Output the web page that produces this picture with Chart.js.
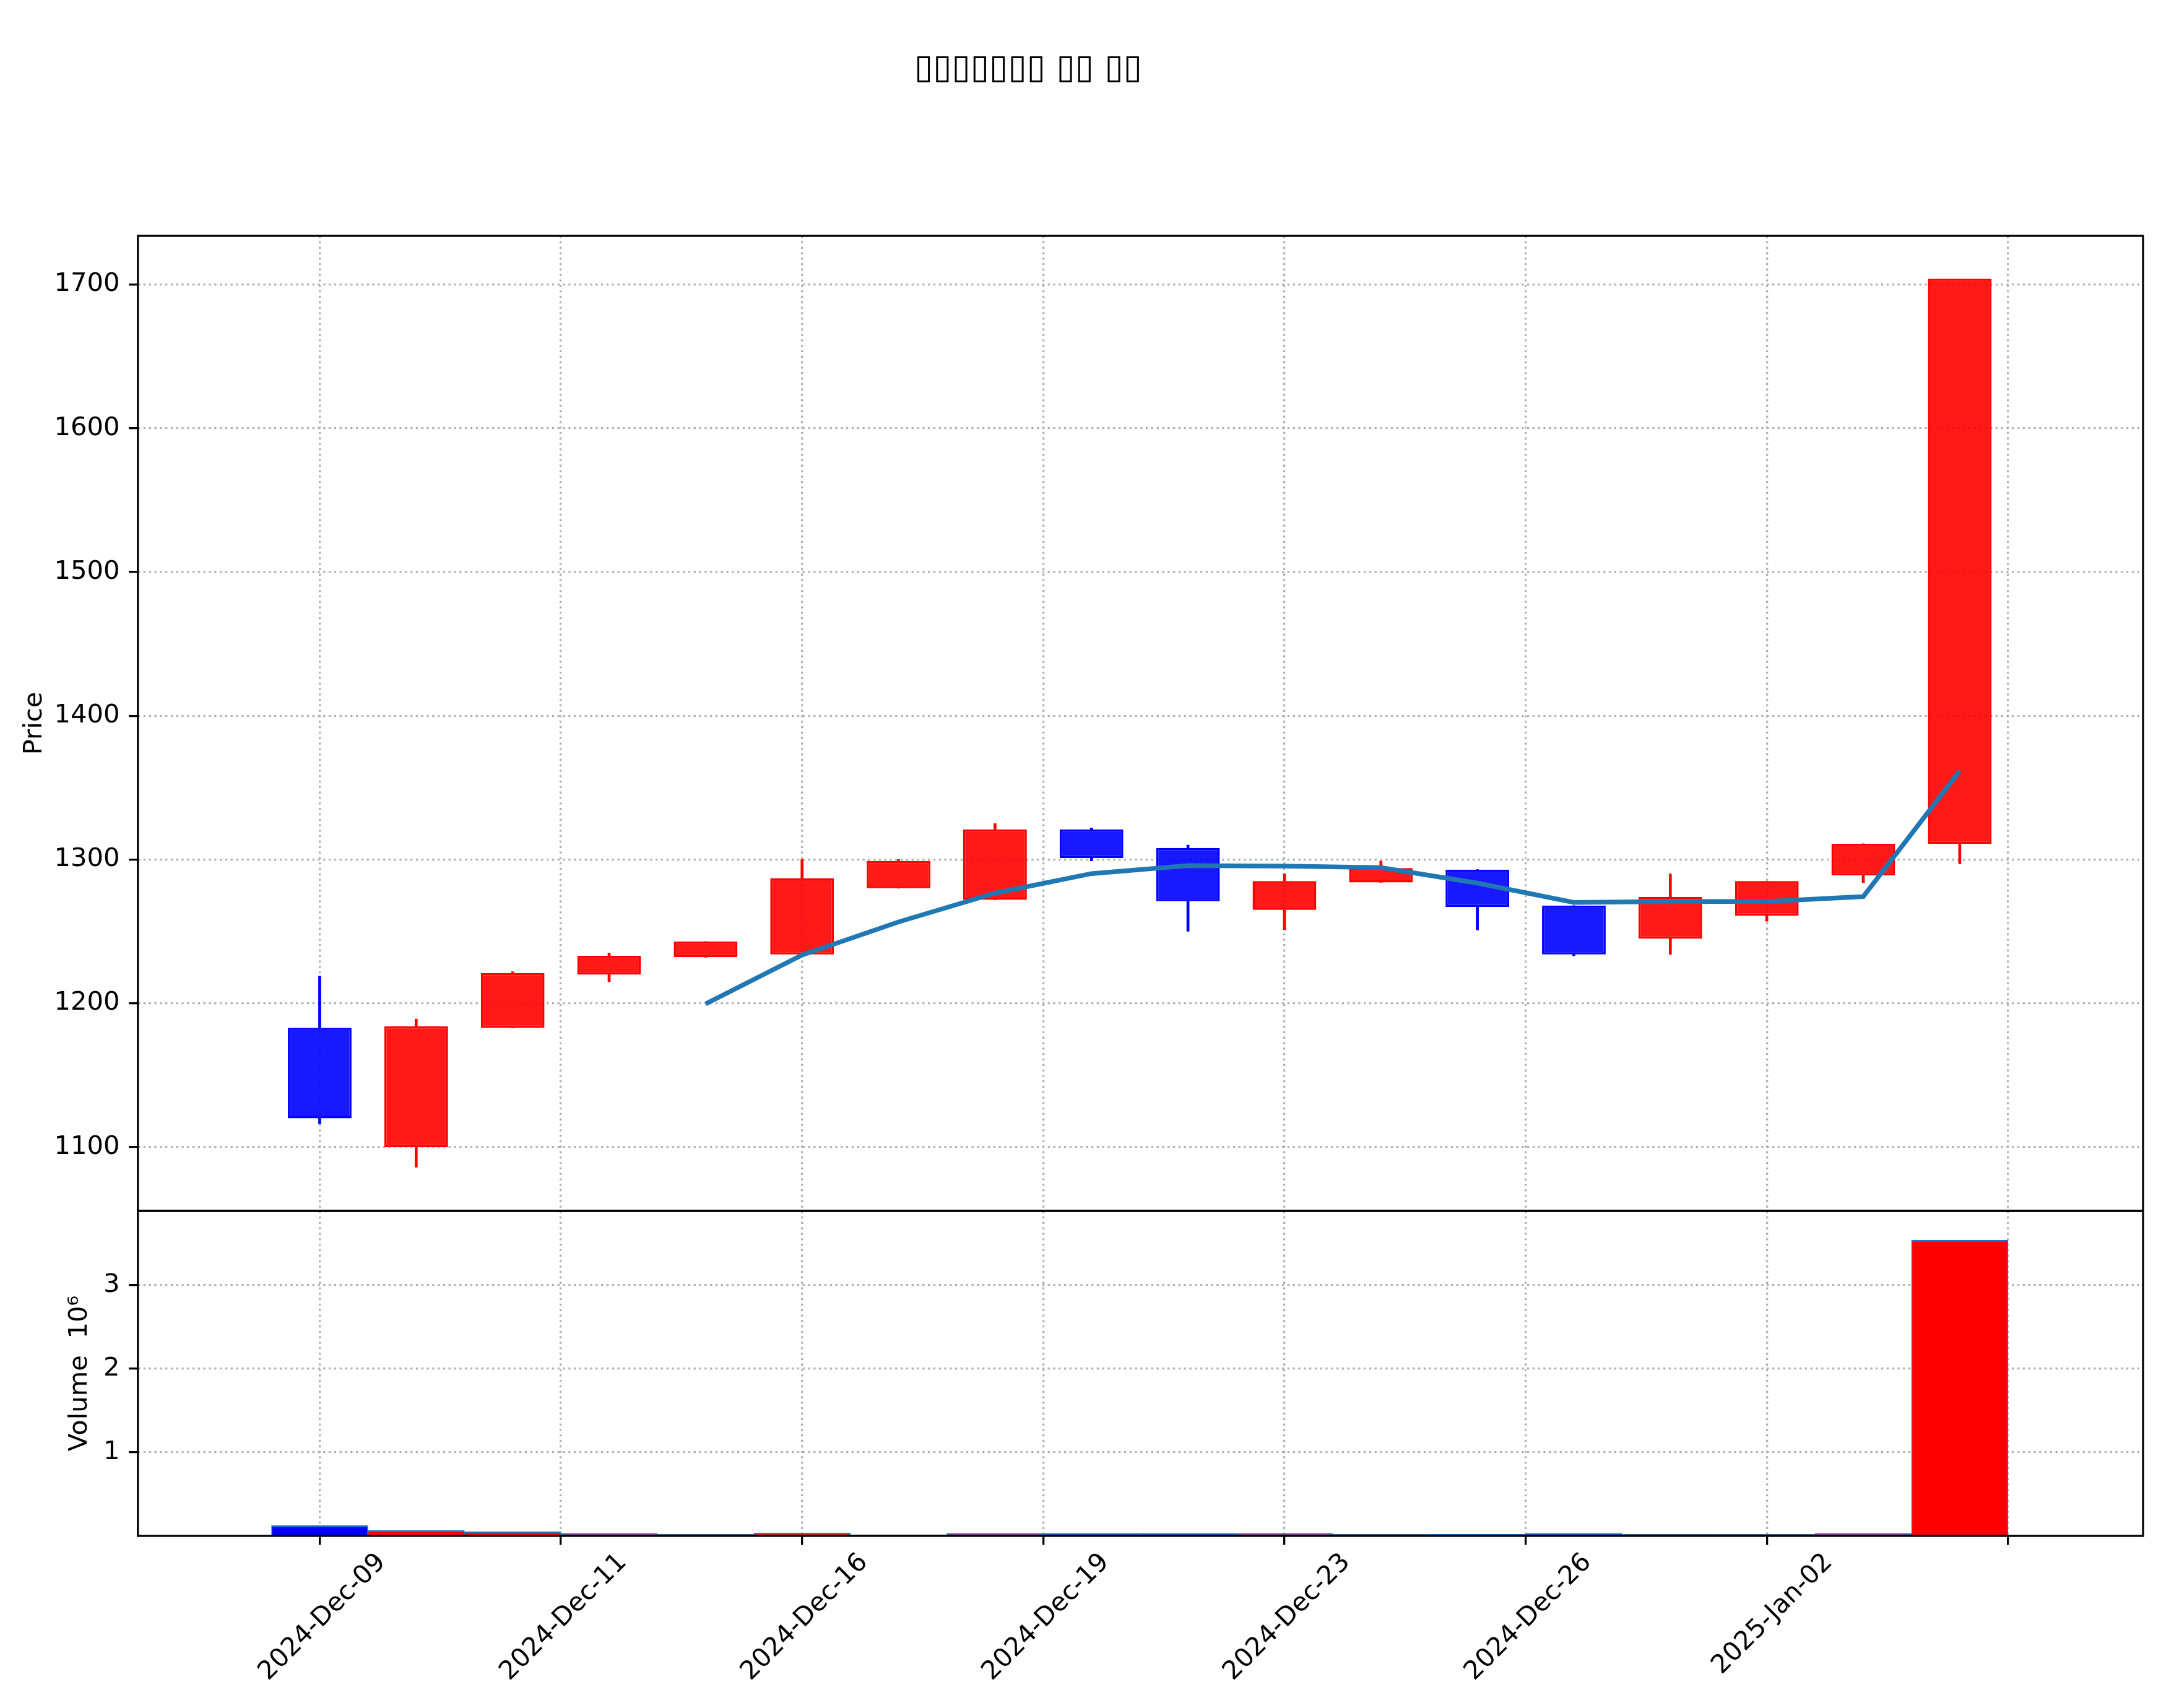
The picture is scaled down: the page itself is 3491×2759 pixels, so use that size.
<!DOCTYPE html>
<html lang="ko">
<head>
    <meta charset="UTF-8">
    <title>Candlestick chart</title>
    <script src="https://cdn.jsdelivr.net/npm/chart.js"></script>
    <style>
        html, body { margin: 0; padding: 0; background: #fff; }
        #chart { display: block; }
    </style>
</head>
<body>
    <canvas id="chart" width="3491" height="2759"></canvas>

    <script>
        // Values
        const chartTitle = '▯▯▯▯▯▯▯ ▯▯ ▯▯';
        const dates = ['2024-Dec-09', '2024-Dec-10', '2024-Dec-11', '2024-Dec-12', '2024-Dec-13', '2024-Dec-16',
                       '2024-Dec-17', '2024-Dec-18', '2024-Dec-19', '2024-Dec-20', '2024-Dec-23', '2024-Dec-24',
                       '2024-Dec-26', '2024-Dec-27', '2024-Dec-30', '2025-Jan-02', '2025-Jan-03', '2025-Jan-06'];
        const opens  = [1183, 1100, 1183, 1220, 1232, 1234, 1280, 1272, 1321, 1308, 1265, 1284, 1293, 1268, 1245, 1261, 1289, 1311];
        const highs  = [1219, 1189, 1222, 1235, 1243, 1300, 1300, 1325, 1322, 1310, 1290, 1299, 1293, 1268, 1290, 1285, 1311, 1704];
        const lows   = [1116, 1086, 1183, 1215, 1232, 1233, 1280, 1272, 1299, 1250, 1251, 1284, 1251, 1233, 1234, 1257, 1284, 1297];
        const closes = [1120, 1184, 1221, 1233, 1243, 1287, 1299, 1321, 1301, 1271, 1285, 1294, 1267, 1234, 1274, 1285, 1311, 1704];
        const ma5    = [null, null, null, null, 1199.6, 1233.6, 1256.6, 1276.6, 1290.2, 1295.8, 1295.4, 1294.4,
                        1283.6, 1270.2, 1270.8, 1270.8, 1274.2, 1361.6];
        const volumes = [126000, 67000, 52000, 30000, 22000, 37000, 15000, 30000, 30000, 30000, 30000, 22000,
                         22000, 30000, 22000, 22000, 30000, 3540000];

        const priceTicks = [1100, 1200, 1300, 1400, 1500, 1600, 1700];
        const volumeTicks = [1000000, 2000000, 3000000];
        const xTickPos = [0, 2.5, 5, 7.5, 10, 12.5, 15, 17.5];
        const xTickLabels = ['2024-Dec-09', '2024-Dec-11', '2024-Dec-16', '2024-Dec-19', '2024-Dec-23',
                             '2024-Dec-26', '2025-Jan-02', ''];

        // colours: red = up, blue = down
        const isUp = closes.map((c, i) => c >= opens[i]);
        const bodyFill = isUp.map(u => u ? 'rgba(255,0,0,0.9)' : 'rgba(0,0,255,0.9)');
        const edgeColor = isUp.map(u => u ? '#ff0000' : '#0000ff');
        const volFill = isUp.map(u => u ? '#ff0000' : '#0000ff');

        // wicks are split at the body so they don't show through it
        const bodyTop = opens.map((o, i) => Math.max(o, closes[i]));
        const bodyBottom = opens.map((o, i) => Math.min(o, closes[i]));

        const FONT = 'DejaVu Sans';
        const gridColor = '#b0b0b0';

        // Title, axis labels and panel frames
        const decorPlugin = {
            id: 'decor',
            afterDatasetsDraw(chart) {
                const ctx = chart.ctx;
                const a = chart.chartArea;
                const yv = chart.scales.yv;
                ctx.save();
                ctx.strokeStyle = '#000';
                ctx.lineWidth = 3.3;
                ctx.strokeRect(a.left, a.top, a.right - a.left, yv.top - a.top);
                ctx.strokeRect(a.left, yv.top, a.right - a.left, a.bottom - yv.top);
                ctx.restore();
            },
            afterDraw(chart) {
                const ctx = chart.ctx;
                const yp = chart.scales.y;
                const yv = chart.scales.yv;
                ctx.save();
                ctx.fillStyle = '#000';
                ctx.textAlign = 'center';
                ctx.textBaseline = 'middle';
                ctx.font = '55px "' + FONT + '"';
                ctx.fillText(chartTitle, 1661, 112);

                ctx.font = '41.7px "' + FONT + '"';
                ctx.textBaseline = 'alphabetic';
                const vText = (t, x, y) => {
                    ctx.save();
                    ctx.translate(x, y);
                    ctx.rotate(-Math.PI / 2);
                    ctx.fillText(t, 0, 0);
                    ctx.restore();
                };
                vText('Price', 67, (yp.top + yp.bottom) / 2);
                vText('Volume  10⁶', 140, (yv.top + yv.bottom) / 2);
                ctx.restore();
            }
        };

        const tickFont = { family: FONT, size: 41.7 };
        const gridOpts = {
            color: gridColor, lineWidth: 3.3, offset: false,
            tickLength: 14.6, tickColor: '#000', tickWidth: 3.3, tickBorderDash: []
        };

        const chart = new Chart(document.getElementById('chart'), {
            type: 'bar',
            data: {
                datasets: [
                    {
                        type: 'line',
                        label: 'MA5',
                        data: ma5.map((v, i) => ({ x: i, y: v })),
                        yAxisID: 'y',
                        borderColor: '#1f77b4',
                        borderWidth: 7.5,
                        pointRadius: 0,
                        tension: 0,
                        order: 0
                    },
                    {
                        label: 'body',
                        data: opens.map((o, i) => ({ x: i, y: [o, closes[i]] })),
                        yAxisID: 'y',
                        backgroundColor: bodyFill,
                        borderColor: edgeColor,
                        borderWidth: 3.5,
                        borderSkipped: false,
                        grouped: false,
                        barPercentage: 0.66,
                        categoryPercentage: 1,
                        order: 1
                    },
                    {
                        label: 'upper wick',
                        data: highs.map((h, i) => ({ x: i, y: [bodyTop[i], h] })),
                        yAxisID: 'y',
                        backgroundColor: edgeColor,
                        borderWidth: 0,
                        barThickness: 4,
                        grouped: false,
                        order: 2
                    },
                    {
                        label: 'lower wick',
                        data: lows.map((l, i) => ({ x: i, y: [l, bodyBottom[i]] })),
                        yAxisID: 'y',
                        backgroundColor: edgeColor,
                        borderWidth: 0,
                        barThickness: 4,
                        grouped: false,
                        order: 2
                    },
                    {
                        label: 'Volume',
                        data: volumes.map((v, i) => ({ x: i, y: v })),
                        yAxisID: 'yv',
                        backgroundColor: volFill,
                        borderColor: '#1f77b4',
                        borderWidth: { top: 3, left: 1.5, right: 1.5, bottom: 0 },
                        borderSkipped: 'start',
                        grouped: false,
                        barPercentage: 1,
                        categoryPercentage: 1,
                        order: 3
                    }
                ]
            },
            options: {
                responsive: false,
                animation: false,
                layout: { padding: { top: 381, right: 29, left: 0, bottom: 0 } },
                plugins: {
                    legend: { display: false },
                    tooltip: { enabled: false },
                    title: { display: false }
                },
                scales: {
                    x: {
                        type: 'linear',
                        min: -1.885,
                        max: 18.9,
                        offset: false,
                        afterBuildTicks: s => { s.ticks = xTickPos.map(v => ({ value: v })); },
                        afterFit: s => { s.height = 278; },
                        grid: gridOpts,
                        border: { display: false, dash: [3.3, 5.5] },
                        ticks: {
                            autoSkip: false,
                            maxRotation: 45,
                            minRotation: 45,
                            labelOffset: 100,
                            padding: 4,
                            color: '#000',
                            font: tickFont,
                            callback: (v, i) => xTickLabels[i]
                        }
                    },
                    y: {
                        type: 'linear',
                        position: 'left',
                        stack: 'panes',
                        stackWeight: 3,
                        weight: 2,
                        min: 1055.6,
                        max: 1733.8,
                        afterBuildTicks: s => { s.ticks = priceTicks.map(v => ({ value: v })); },
                        afterFit: s => { s.width = 222.7; },
                        grid: gridOpts,
                        border: { display: false, dash: [3.3, 5.5] },
                        ticks: {
                            padding: 14.6,
                            color: '#000',
                            font: tickFont,
                            callback: v => String(v)
                        }
                    },
                    yv: {
                        type: 'linear',
                        position: 'left',
                        stack: 'panes',
                        stackWeight: 1,
                        weight: 1,
                        min: 0,
                        max: 3889000,
                        afterBuildTicks: s => { s.ticks = volumeTicks.map(v => ({ value: v })); },
                        afterFit: s => { s.width = 222.7; },
                        grid: gridOpts,
                        border: { display: false, dash: [3.3, 5.5] },
                        ticks: {
                            padding: 14.6,
                            color: '#000',
                            font: tickFont,
                            callback: v => String(v / 1000000)
                        }
                    }
                }
            },
            plugins: [decorPlugin]
        });
    </script>
</body>
</html>
